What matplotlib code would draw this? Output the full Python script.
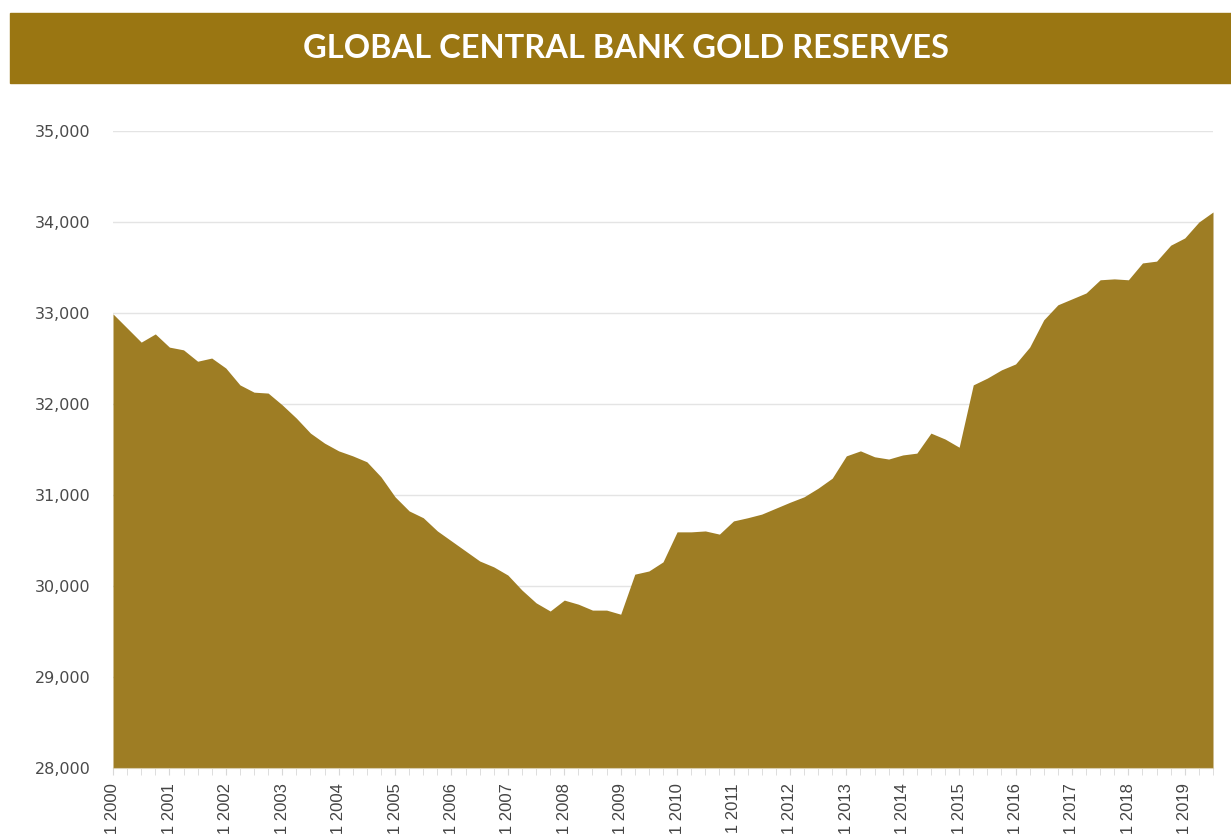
import numpy as np
import matplotlib.pyplot as plt
from matplotlib.patches import Rectangle

# quarterly reserves (tonnes), Q1 2000 .. Q3 2019
reserves = [32990, 32835, 32680, 32770, 32625, 32595, 32470, 32505,
            32395, 32210, 32130, 32120, 31990, 31845, 31680, 31570,
            31485, 31430, 31365, 31200, 30980, 30825, 30750, 30605,
            30495, 30385, 30275, 30210, 30120, 29955, 29815, 29725,
            29845, 29800, 29735, 29735, 29690, 30130, 30165, 30265,
            30595, 30595, 30605, 30570, 30715, 30750, 30790, 30855,
            30920, 30980, 31075, 31185, 31430, 31485, 31420, 31395,
            31440, 31460, 31680, 31615, 31525, 32210, 32285, 32375,
            32440, 32625, 32925, 33090, 33155, 33220, 33365, 33375,
            33365, 33550, 33570, 33745, 33825, 34000, 34110]
years = list(range(2000, 2020))
tick_labels = ["Q1 %d" % y for y in years]
yticks = [28000, 29000, 30000, 31000, 32000, 33000, 34000, 35000]

W, H = 1231, 835
fig = plt.figure(figsize=(W/100, H/100), dpi=100)

# title banner
fig.patches.append(Rectangle((10/W, 1-83/H), (W-10)/W, 70/H, transform=fig.transFigure,
                             color="#9a7612", zorder=0))
fig.text(626/W, 1-48/H, "GLOBAL CENTRAL BANK GOLD RESERVES", color="white",
         fontsize=23.5, fontweight="bold", family="Lato", ha="center", va="center")

ax = fig.add_axes([113/W, 1-768/H, 1100/W, 637/H])
x = np.arange(len(reserves))
ax.fill_between(x, reserves, 28000, color="#9e7d24", linewidth=0, zorder=2)
ax.set_xlim(0, len(reserves)-1)
ax.set_ylim(28000, 35000)

ax.set_yticks(yticks)
ax.set_yticklabels(["{:,}".format(v) for v in yticks])
ax.yaxis.grid(True, color="#e4e4e4", linewidth=1)
ax.set_axisbelow(True)

ax.set_xticks(np.arange(0, len(reserves), 4))
ax.set_xticklabels(tick_labels, rotation=90, va="top", family="Liberation Sans")
ax.set_xticks(np.arange(len(reserves)), minor=True)

for s in ["top", "right", "left"]:
    ax.spines[s].set_visible(False)
ax.spines["bottom"].set_color("#d9ceb0")
ax.tick_params(axis="y", length=0, pad=16, labelsize=11.5, labelcolor="#4a4a4a")
ax.tick_params(axis="x", which="both", length=5, color="#d8d8d8", labelsize=12,
               labelcolor="#444444", pad=6)

fig.savefig("out.png", dpi=100)
